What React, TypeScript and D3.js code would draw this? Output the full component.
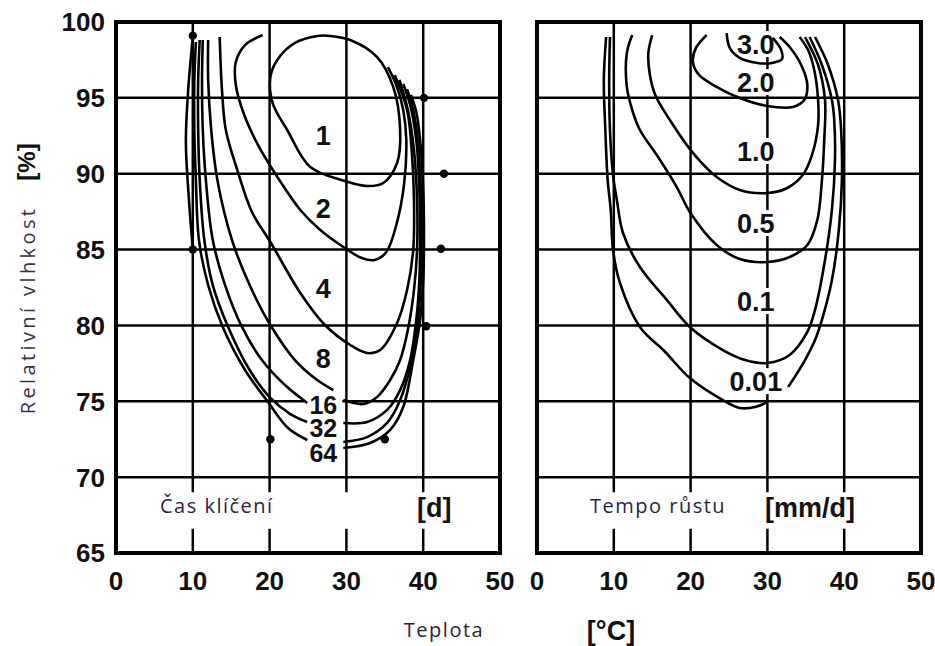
import React from "react";
import * as d3 from "d3";

type Pt = [number, number];

// axes
const xTicks = [0, 10, 20, 30, 40, 50];
const yTicks = [65, 70, 75, 80, 85, 90, 95, 100];
const gridX = [10, 20, 30, 40];
const gridY = [70, 75, 80, 85, 90, 95];

// left panel: germination time [d], points are [teplota °C, vlhkost %]
const germ1: Pt[] = [[27.9, 99.08], [30.5, 98.81], [34.0, 97.69], [36.1, 95.72], [37.0, 92.88], [36.6, 90.71], [34.8, 89.39], [32.7, 89.19], [29.8, 89.52], [25.3, 90.44], [22.3, 92.88], [20.4, 94.66], [20.1, 96.37], [21.0, 97.5], [23.3, 98.62], [26.2, 99.08]];
const germ2: Pt[] = [[19.1, 99.14], [16.8, 98.48], [15.6, 97.36], [15.6, 95.85], [16.7, 93.87], [18.5, 91.89], [21.1, 89.72], [24.0, 87.61], [26.6, 86.29], [29.6, 85.17], [32.0, 84.44], [33.7, 84.31], [35.2, 84.84], [36.5, 86.62], [37.5, 89.26], [37.8, 92.22], [37.4, 94.2], [36.5, 95.85], [35.4, 97.03]];
const germ4: Pt[] = [[13.5, 99.01], [13.8, 95.52], [14.3, 92.88], [15.8, 90.24], [17.7, 87.48], [20.1, 85.5], [24.0, 82.14], [27.2, 80.03], [30.5, 78.71], [32.7, 78.18], [34.4, 78.38], [36.6, 80.16], [37.9, 82.33], [38.7, 84.97], [38.8, 88.27], [38.5, 91.56], [37.9, 94.2], [36.3, 96.51]];
const germ8Left: Pt[] = [[12.0, 98.81], [12.0, 96.18], [12.4, 92.88], [13.2, 89.59], [15.1, 85.63], [17.4, 82.66], [20.1, 80.03], [23.3, 77.72], [26.2, 76.4], [28.3, 75.74]];
const germ8Right: Pt[] = [[29.6, 75.08], [32.2, 74.82], [34.0, 75.28], [35.7, 76.4], [37.0, 77.72], [38.0, 79.7], [38.8, 82.33], [39.2, 84.97], [39.2, 88.27], [38.8, 91.56], [38.0, 94.2], [36.9, 96.18]];
const germ16Left: Pt[] = [[11.3, 98.81], [11.2, 96.18], [11.3, 92.88], [11.7, 89.59], [12.6, 85.63], [14.2, 82.66], [16.4, 79.9], [19.0, 77.72], [22.0, 76.07], [24.9, 74.89]];
const germ16Right: Pt[] = [[29.6, 73.57], [32.7, 73.63], [35.3, 74.43], [37.0, 75.74], [38.3, 77.72], [39.1, 80.36], [39.5, 82.99], [39.6, 85.63], [39.5, 88.93], [39.1, 92.22], [38.3, 94.53], [37.4, 95.91]];
const germ32Left: Pt[] = [[10.9, 98.81], [10.7, 96.18], [10.7, 92.88], [10.9, 89.59], [11.5, 85.63], [12.6, 82.66], [14.6, 79.9], [17.4, 77.06], [20.1, 75.22], [22.7, 74.16], [24.9, 73.63]];
const germ32Right: Pt[] = [[29.6, 72.32], [32.7, 72.64], [35.3, 73.57], [37.0, 75.08], [38.5, 77.72], [39.3, 80.36], [39.7, 82.99], [39.8, 85.63], [39.7, 88.93], [39.3, 92.22], [38.7, 94.2], [37.9, 95.58]];
const germ64Left: Pt[] = [[10.4, 98.68], [10.2, 96.18], [10.2, 92.88], [10.4, 89.59], [10.8, 85.63], [12.0, 82.66], [13.9, 79.9], [16.8, 77.06], [19.8, 74.95], [22.4, 73.24], [24.9, 72.45]];
const germ64Right: Pt[] = [[29.6, 71.92], [33.1, 72.25], [35.7, 73.11], [37.4, 74.62], [38.7, 77.72], [39.6, 80.36], [40.0, 82.99], [40.1, 85.63], [40.0, 88.93], [39.6, 92.22], [39.1, 94.07], [38.4, 95.19]];
const germEdge: Pt[] = [[10.0, 99.01], [9.4, 95.52], [9.1, 92.09], [9.5, 88.27], [10.0, 85.04]];
const germDots: Pt[] = [[10, 99.1], [40.1, 95], [42.7, 90], [42.3, 85.05], [10, 85], [40.4, 79.95], [20.1, 72.5], [35, 72.5]];
const germLabels = ["1", "2", "4", "8", "16", "32", "64"];
const germLabelT = [27, 27, 27, 27, 27, 27, 27];
const germLabelRH = [92.55, 87.74, 82.47, 77.85, 74.75, 73.24, 71.59];

// right panel: growth rate [mm/d]
const growth3: Pt[] = [[24.7, 99.27], [25.1, 98.29], [26.4, 97.63], [28.7, 97.3], [30.6, 97.3], [31.9, 97.56], [31.8, 98.15], [30.7, 98.95]];
const growth2: Pt[] = [[22.1, 99.14], [20.7, 98.29], [20.3, 97.36], [21.1, 96.51], [23.2, 95.78], [26.4, 94.99], [30.0, 94.46], [33.3, 94.4], [34.8, 94.86], [35.2, 95.85], [34.4, 97.17], [32.9, 98.35], [31.6, 99.01]];
const growth1: Pt[] = [[15.0, 99.14], [14.5, 97.96], [14.7, 96.51], [15.4, 95.19], [17.3, 93.54], [20.3, 91.37], [23.4, 89.78], [26.4, 88.93], [30.0, 88.73], [32.6, 89.06], [34.6, 89.91], [35.8, 91.23], [36.6, 93.21], [36.6, 94.86], [36.1, 96.84], [35.3, 98.15], [34.2, 99.01]];
const growth05: Pt[] = [[12.4, 99.14], [11.7, 97.96], [11.7, 95.72], [12.4, 94.2], [13.4, 92.88], [15.6, 91.23], [18.2, 89.12], [19.9, 87.48], [23.4, 85.3], [26.4, 84.38], [30.0, 84.18], [32.9, 84.51], [35.2, 85.3], [36.5, 86.95], [37.1, 89.59], [37.4, 92.22], [37.5, 94.86], [36.6, 97.17], [34.9, 99.01]];
const growth01: Pt[] = [[9.5, 99.01], [9.4, 96.18], [9.5, 92.88], [9.9, 89.91], [10.4, 88.27], [11.2, 86.09], [13.4, 83.85], [16.9, 81.68], [19.9, 79.9], [24.2, 78.38], [27.1, 77.72], [30.0, 77.52], [32.9, 78.05], [35.2, 79.57], [36.2, 81.02], [37.5, 84.31], [38.4, 87.61], [38.8, 90.9], [38.7, 93.54], [38.4, 94.86], [37.1, 97.17], [35.5, 99.01]];
const growth001Left: Pt[] = [[9.0, 99.01], [8.7, 96.18], [8.9, 92.88], [9.2, 89.59], [9.6, 87.61], [9.9, 84.97], [10.8, 82.8], [13.4, 79.9], [16.7, 78.25], [19.9, 76.53], [24.2, 75.08], [26.4, 74.56], [28.4, 74.62], [30.0, 74.95]];
const growth001Right: Pt[] = [[32.7, 75.94], [34.9, 77.72], [36.2, 79.04], [37.1, 80.36], [38.4, 82.99], [39.3, 86.29], [39.7, 89.59], [39.6, 92.88], [39.2, 94.86], [37.9, 97.17], [36.2, 99.01]];
const growthLabels = ["3.0", "2.0", "1.0", "0.5", "0.1", "0.01"];
const growthLabelT = [28.5, 28.5, 28.5, 28.5, 28.5, 28.5];
const growthLabelRH = [98.55, 96.04, 91.5, 86.75, 81.61, 76.33];

const W = 935;
const H = 646;
const y = d3.scaleLinear().domain([65, 100]).range([553, 22]);
const xL = d3.scaleLinear().domain([0, 50]).range([116, 500]);
const xR = d3.scaleLinear().domain([0, 50]).range([537, 921]);

const BOLD = "'Liberation Sans', Arial, sans-serif";
const SANS = "'Open Sans', 'DejaVu Sans', sans-serif";

function Panel({ x, lines, closed, dots, labels, labelT, labelRH, boxedFrom, boxW, boxH, labelSize }: any) {
  const mk = d3.line<Pt>().x((d) => x(d[0])).y((d) => y(d[1])).curve(d3.curveCatmullRom.alpha(0.5));
  const mkClosed = d3.line<Pt>().x((d) => x(d[0])).y((d) => y(d[1])).curve(d3.curveCatmullRomClosed.alpha(0.5));
  const [x0, x1] = x.range();
  return (
    <g>
      {gridX.map((v) => (
        <g key={"gx" + v} stroke="#000" strokeWidth={2.5}>
          <line x1={x(v)} x2={x(v)} y1={y(100)} y2={y(69)} />
          <line x1={x(v)} x2={x(v)} y1={y(66.6)} y2={y(65)} />
        </g>
      ))}
      {gridY.map((v) => (
        <line key={"gy" + v} x1={x0} x2={x1} y1={y(v)} y2={y(v)} stroke="#000" strokeWidth={2.5} />
      ))}
      {labels.map((t: string, i: number) =>
        i >= boxedFrom ? (
          <rect key={"bg" + t} x={x(labelT[i]) - boxW / 2} y={y(labelRH[i]) - boxH / 2} width={boxW} height={boxH} fill="#fff" />
        ) : null
      )}
      <rect x={x0} y={y(100)} width={x1 - x0} height={y(65) - y(100)} fill="none" stroke="#000" strokeWidth={4} />
      {lines.map((pts: Pt[], i: number) => (
        <path key={"c" + i} d={mk(pts) || ""} fill="none" stroke="#000" strokeWidth={2.6} />
      ))}
      {closed.map((pts: Pt[], i: number) => (
        <path key={"cc" + i} d={mkClosed(pts) || ""} fill="none" stroke="#000" strokeWidth={2.6} />
      ))}
      {dots.map((d: Pt, i: number) => (
        <circle key={"d" + i} cx={x(d[0])} cy={y(d[1])} r={4.2} fill="#000" />
      ))}
      {labels.map((t: string, i: number) => (
        <text key={"l" + t} x={x(labelT[i])} y={y(labelRH[i])} dy="0.36em" textAnchor="middle" fontFamily={BOLD} fontWeight="bold" fontSize={labelSize[i]} fill="#111">
          {t}
        </text>
      ))}
      {xTicks.map((v) => (
        <text key={"xt" + v} x={x(v)} y={590} textAnchor="middle" fontFamily={BOLD} fontWeight="bold" fontSize={26} fill="#111">
          {v}
        </text>
      ))}
    </g>
  );
}

export default function App() {
  return (
    <svg width={W} height={H} style={{ position: "absolute", left: 0, top: 0, background: "#fff" }}>
      <rect width={W} height={H} fill="#fff" />
      <Panel
        x={xL}
        lines={[germ2, germ4, germ8Left, germ8Right, germ16Left, germ16Right, germ32Left, germ32Right, germ64Left, germ64Right, germEdge]}
        closed={[germ1]}
        dots={germDots}
        labels={germLabels}
        labelT={germLabelT}
        labelRH={germLabelRH}
        boxedFrom={4}
        boxW={38}
        boxH={21}
        labelSize={[27, 27, 27, 27, 25, 25, 25]}
      />
      <Panel
        x={xR}
        lines={[growth3, growth2, growth1, growth05, growth01, growth001Left, growth001Right]}
        closed={[]}
        dots={[]}
        labels={growthLabels}
        labelT={growthLabelT}
        labelRH={growthLabelRH}
        boxedFrom={0}
        boxW={46}
        boxH={26}
        labelSize={[27, 27, 27, 27, 27, 27]}
      />
      {yTicks.map((v) => (
        <text key={"yt" + v} x={105} y={y(v)} dy="0.36em" textAnchor="end" fontFamily={BOLD} fontWeight="bold" fontSize={26} fill="#111">
          {v}
        </text>
      ))}
      <text transform="translate(28,310) rotate(-90)" dy="0.36em" textAnchor="middle" fontFamily={SANS} fontSize={20} letterSpacing={3.4} fill="#3a3048">
        Relativní vlhkost
      </text>
      <text transform="translate(26,162) rotate(-90)" dy="0.36em" textAnchor="middle" fontFamily={BOLD} fontWeight="bold" fontSize={24} fill="#111">
        [%]
      </text>
      <text x={160} y={513} fontFamily={SANS} fontSize={20} letterSpacing={1.5} fill="#2a2440">Čas klíčení</text>
      <text x={417} y={517} fontFamily={BOLD} fontWeight="bold" fontSize={27} fill="#111">[d]</text>
      <text x={590} y={513} fontFamily={SANS} fontSize={20} letterSpacing={1.5} fill="#2a2440">Tempo růstu</text>
      <text x={765} y={517} fontFamily={BOLD} fontWeight="bold" fontSize={27} fill="#111">[mm/d]</text>
      <text x={444} y={637} textAnchor="middle" fontFamily={SANS} fontSize={20} letterSpacing={1.5} fill="#2a2440">Teplota</text>
      <text x={611} y={640} textAnchor="middle" fontFamily={BOLD} fontWeight="bold" fontSize={27} fill="#111">[°C]</text>
    </svg>
  );
}
